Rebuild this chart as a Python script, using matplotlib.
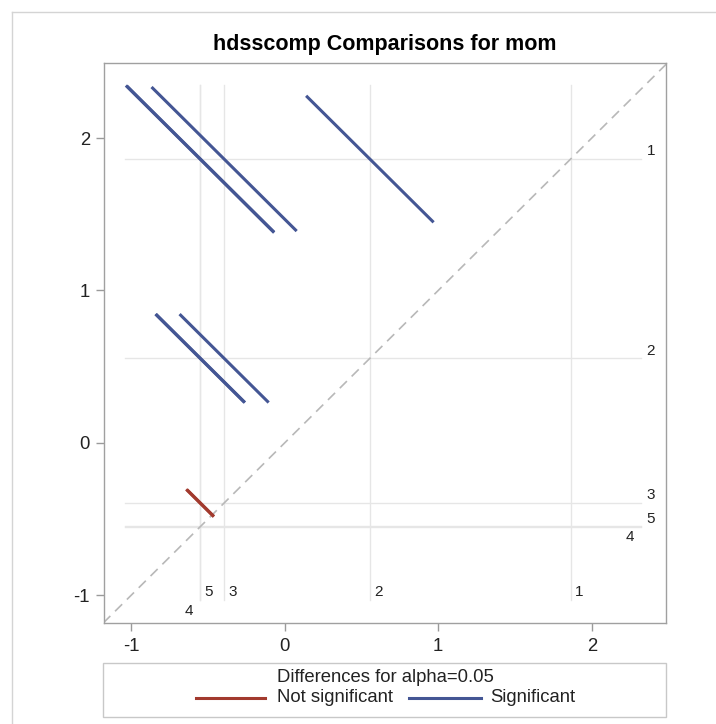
import matplotlib
matplotlib.use("Agg")
import matplotlib.pyplot as plt
from matplotlib.lines import Line2D
from matplotlib.patches import Rectangle

plt.rcParams['font.family'] = ['Liberation Sans', 'DejaVu Sans']

# LS means for each level of hdsscomp
levels = ['1', '2', '3', '4', '5']
lsmeans = [1.862, 0.555, -0.394, -0.551, -0.548]

# Pairwise differences (row level minus column level) with 95% confidence limits
pair_row = ['1', '1', '1', '1', '2', '2', '2', '3', '3']
pair_col = ['5', '4', '3', '2', '5', '4', '3', '5', '4']
ci_lower = [1.45, 1.45, 1.31, 0.48, 0.52, 0.53, 0.37, -0.02, -0.02]
ci_upper = [3.37, 3.38, 3.20, 2.14, 1.68, 1.69, 1.53, 0.33, 0.34]

title = 'hdsscomp Comparisons for mom'
legend_title = 'Differences for alpha=0.05'
legend_labels = ['Not significant', 'Significant']

COL_SIG = '#445694'
COL_NS = '#A23A2E'
REF_COL = '#E6E6E6'
TXT = '#222222'

W, H = 716, 724
fig = plt.figure(figsize=(W / 100, H / 100), dpi=100)
ax = fig.add_axes([104 / W, 1 - 623 / H, (666 - 104) / W, (623 - 63) / H])

lo_x, hi_x, lo_y, hi_y = -1.176, 2.483, -1.181, 2.492
ax.set_xlim(lo_x, hi_x)
ax.set_ylim(lo_y, hi_y)

mean = dict(zip(levels, lsmeans))

# reference lines at each LS mean
for lv, m in mean.items():
    ax.plot([-1.04, 2.32], [m, m], color=REF_COL, lw=1.0, zorder=1)
    ax.plot([m, m], [-1.03, 2.35], color=REF_COL, lw=1.0, zorder=1)

# diagonal of equality
ax.plot([lo_y, hi_y], [lo_y, hi_y], color='#B8B8B8', lw=1.2,
        dashes=(6, 4), zorder=2)

# one segment of slope -1 per pair, centred at (col mean, row mean)
for r, c, L, U in zip(pair_row, pair_col, ci_lower, ci_upper):
    h = (U - L) / 4.0
    xc, yc = mean[c], mean[r]
    sig = L > 0 or U < 0
    ax.plot([xc - h, xc + h], [yc + h, yc - h],
            color=COL_SIG if sig else COL_NS, lw=2.2,
            solid_capstyle='butt', zorder=3)

# level labels on the right and along the bottom
right_shift = {'4': (-0.137, -0.115)}
bottom_shift = {'4': (-0.13, -0.12)}
for lv, m in mean.items():
    dx, dy = right_shift.get(lv, (0.0, 0.0))
    ax.text(2.385 + dx, m + 0.05 + dy, lv, ha='center', va='center',
            fontsize=11, color=TXT)
    dx, dy = bottom_shift.get(lv, (0.0, 0.0))
    ax.text(m + 0.055 + dx, -0.98 + dy, lv, ha='center', va='center',
            fontsize=11, color=TXT)

ax.set_xticks([-1, 0, 1, 2])
ax.set_yticks([-1, 0, 1, 2])
ax.set_xticklabels(['-1', '0', '1', '2'])
ax.set_yticklabels(['-1', '0', '1', '2'])
ax.tick_params(axis='both', colors='#9A9A9A', labelcolor=TXT,
               labelsize=13.3, length=6, width=1, direction='out')
ax.tick_params(axis='x', pad=5)
ax.tick_params(axis='y', pad=4)
for s in ax.spines.values():
    s.set_color('#A0A0A0')
    s.set_linewidth(1.0)

fig.text(385 / W, 1 - 50 / H, title, ha='center', va='baseline',
         fontsize=15.5, fontweight='bold', color='#000000')

# legend box
fig.patches.append(Rectangle((103 / W, 1 - 717 / H), (666 - 103) / W,
                             (717 - 663) / H, transform=fig.transFigure,
                             fill=False, edgecolor='#C8C8C8', lw=1.0))
fig.text(385 / W, 1 - 677 / H, legend_title, ha='center', va='center',
         fontsize=13.3, color=TXT)
ly = 1 - 698 / H
fig.lines.append(Line2D([196 / W, 265 / W], [ly, ly], color=COL_NS, lw=2.2,
                        transform=fig.transFigure))
fig.text(277 / W, ly, legend_labels[0], ha='left', va='center',
         fontsize=13.3, color=TXT)
fig.lines.append(Line2D([409 / W, 481 / W], [ly, ly], color=COL_SIG, lw=2.2,
                        transform=fig.transFigure))
fig.text(490 / W, ly, legend_labels[1], ha='left', va='center',
         fontsize=13.3, color=TXT)

# outer frame
fig.lines.append(Line2D([12 / W, 1], [1 - 12 / H, 1 - 12 / H], color='#D4D4D4',
                        lw=1.0, transform=fig.transFigure))
fig.lines.append(Line2D([12 / W, 12 / W], [0, 1 - 12 / H], color='#D4D4D4',
                        lw=1.0, transform=fig.transFigure))

fig.savefig('out.png', dpi=100)
